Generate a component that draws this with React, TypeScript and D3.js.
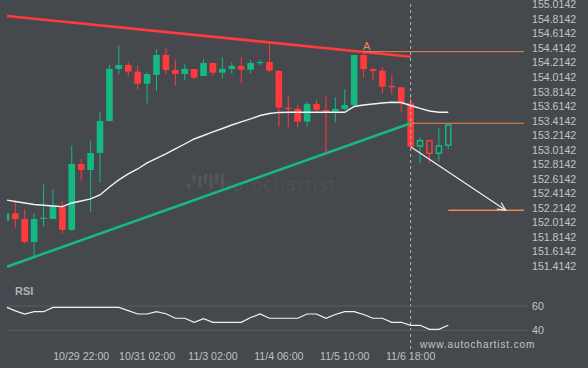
import React from "react";
import * as d3 from "d3";

// candle index -1 .. 46, ohlc
const opens = [152.039, 152.141, 152.062, 151.746, 152.072, 152.062, 152.232, 151.911, 152.82, 152.737, 152.972, 153.412, 154.129, 154.184, 154.092, 153.926, 154.046, 154.322, 154.115, 154.06, 154.129, 154.032, 154.211, 154.078, 154.129, 154.17, 154.119, 154.218, 154.225, 154.101, 153.596, 153.578, 153.403, 153.647, 153.564, 153.54, 153.578, 153.633, 154.322, 154.125, 154.105, 153.895, 153.876, 153.656, 153.068, 153.141, 152.967, 153.078];
const highs = [152.16, 152.301, 152.196, 152.141, 152.54, 152.472, 152.301, 153.068, 152.885, 153.141, 153.54, 154.184, 154.459, 154.235, 154.174, 154.083, 154.4, 154.422, 154.262, 154.193, 154.129, 154.262, 154.211, 154.29, 154.221, 154.298, 154.253, 154.262, 154.491, 154.115, 153.761, 153.629, 153.674, 153.702, 153.753, 153.739, 153.849, 154.322, 154.367, 154.152, 154.152, 154.046, 153.876, 153.757, 153.182, 153.141, 153.316, 153.357];
const lows = [152.02, 151.943, 151.728, 151.543, 151.957, 152.062, 151.866, 151.897, 152.59, 152.155, 152.563, 153.403, 154.056, 154.023, 153.849, 153.656, 153.83, 154.056, 153.899, 153.973, 153.991, 154.032, 154.036, 154.001, 154.056, 153.932, 154.069, 154.184, 154.078, 153.334, 153.32, 153.326, 153.334, 153.532, 152.976, 153.395, 153.564, 153.596, 154.014, 153.977, 153.794, 153.78, 153.527, 153.058, 152.83, 152.83, 152.857, 153.023];
const closes = [152.141, 152.062, 151.746, 152.062, 152.08, 152.246, 151.911, 152.82, 152.737, 152.972, 153.412, 154.129, 154.184, 154.092, 153.926, 154.06, 154.322, 154.115, 154.06, 154.129, 154.009, 154.211, 154.078, 154.129, 154.17, 154.119, 154.211, 154.225, 154.105, 153.596, 153.578, 153.403, 153.647, 153.564, 153.54, 153.578, 153.633, 154.322, 154.129, 154.101, 153.885, 153.876, 153.67, 153.058, 153.141, 152.967, 153.068, 153.357];
const movingAvg = [152.324, 152.303, 152.283, 152.262, 152.251, 152.241, 152.232, 152.283, 152.31, 152.338, 152.393, 152.503, 152.6, 152.682, 152.751, 152.834, 152.896, 152.958, 153.027, 153.095, 153.164, 153.212, 153.261, 153.309, 153.357, 153.399, 153.44, 153.488, 153.516, 153.53, 153.532, 153.532, 153.532, 153.532, 153.532, 153.532, 153.532, 153.612, 153.633, 153.647, 153.66, 153.67, 153.667, 153.626, 153.585, 153.55, 153.532, 153.532];
const rsi = [58.9, 56, 53.4, 55.3, 55.3, 58.9, 58.9, 58.9, 58.9, 58.9, 58.9, 58.9, 58.9, 56.2, 53.4, 53.4, 55.3, 53.6, 49.9, 49.9, 46.6, 49.5, 46.6, 46.6, 46.6, 46.6, 50.5, 53.4, 49.9, 49.9, 49.9, 49.9, 53.4, 53.4, 49.9, 53, 55.3, 55.3, 53, 49.9, 49.9, 46.6, 46.6, 44.1, 44.1, 40.8, 40.8, 44.1];

const firstIndex = -1;
const nowIndex = 42;
const timeLabels = ["10/29 22:00", "10/31 02:00", "11/3 02:00", "11/4 06:00", "11/5 10:00", "11/6 18:00"];
const timeLabelIndex = [7, 14, 21, 28, 35, 42];
const priceTicks = d3.range(0, 19).map(i => 155.0142 - i * 0.2);
const rsiTicks = [60, 40];

// pattern: [index, price] pairs
const resistance = [[-0.88, 154.859], [42, 154.298]];
const support = [[-0.88, 151.405], [42, 153.381]];
const levelA = { from: 37, price: 154.367 };
const levelBreak = { from: 42, price: 153.381 };
const target = { from: 46, price: 152.182 };
const forecast = [[42, 153.058], [52.1, 152.182]];

const bg = "#45484d";
const up = "#16b881";
const down = "#ff3b3b";
const orange = "#f0874f";
const font = "'Liberation Sans', Arial, sans-serif";

const App = () => {
  const width = 588, height = 368;
  const plotLeft = 7, plotRight = 528;

  const x = d3.scaleLinear().domain([0, 46]).range([15.3, 448.3]);
  const y = d3.scaleLinear().domain([155.0142, 151.4142]).range([4.7, 266]);
  const yr = d3.scaleLinear().domain([40, 60]).range([330.3, 306]);

  const candles = opens.map((o, i) => ({
    i: i + firstIndex, o, h: highs[i], l: lows[i], c: closes[i]
  }));

  const maLine = d3.line<number>().x((d, i) => x(i + firstIndex)).y(d => y(d));
  const rsiLine = d3.line<number>().x((d, i) => Math.max(plotLeft, x(i + firstIndex))).y(d => yr(d));
  const seg = d3.line<number[]>().x(d => x(d[0])).y(d => y(d[1]));

  const bw = 6.6;
  const arrowEnd = forecast[1];
  const ax = x(arrowEnd[0]), ay = y(arrowEnd[1]);
  const ang = Math.atan2(ay - y(forecast[0][1]), ax - x(forecast[0][0]));
  const head = (a: number) => `${ax - 9 * Math.cos(ang + a)},${ay - 9 * Math.sin(ang + a)}`;

  const logoBars = [[0, 4], [1, 8], [2, 12], [3, 9], [4, 13], [5, 10], [6, 14]];

  return (
    <svg width={width} height={height} style={{ position: "absolute", left: 0, top: 0, display: "block" }} fontFamily={font}>
      <defs>
        <clipPath id="plot">
          <rect x={plotLeft} y={0} width={plotRight - plotLeft} height={272} />
        </clipPath>
      </defs>
      <rect width={width} height={height} fill={bg} />

      {/* watermark */}
      <g fill="#53565b">
        {logoBars.map(([k, hgt]) => (
          <rect key={k} x={187 + k * 5.6} y={(k % 2 ? 183 : 188) - hgt} width={3.2} height={hgt} />
        ))}
        <text x={221} y={191} fontSize={17} letterSpacing={1} fontFamily="'DejaVu Sans', sans-serif" fontWeight={300}>autochartist</text>
      </g>

      <g clipPath="url(#plot)">
        {candles.map(d => {
          const hollow = d.i > nowIndex;
          const col = d.c >= d.o ? up : down;
          const top = y(Math.max(d.o, d.c)), bot = y(Math.min(d.o, d.c));
          const cx = x(d.i);
          return (
            <g key={d.i}>
              <line x1={cx} x2={cx} y1={y(d.h)} y2={hollow ? top : y(d.l)} stroke={col} strokeWidth={1} />
              {hollow && <line x1={cx} x2={cx} y1={bot} y2={y(d.l)} stroke={col} strokeWidth={1} />}
              <rect x={cx - bw / 2 + (hollow ? 0.75 : 0)} y={top} width={bw - (hollow ? 1.5 : 0)}
                height={Math.max(1.2, bot - top)} fill={hollow ? "none" : col} stroke={hollow ? col : "none"} strokeWidth={1.5} />
            </g>
          );
        })}
        <path d={maLine(movingAvg) || ""} fill="none" stroke="#f2f2f2" strokeWidth={1.4} />
        <path d={seg(resistance) || ""} stroke={down} strokeWidth={2.6} fill="none" />
        <path d={seg(support) || ""} stroke={up} strokeWidth={2.6} fill="none" />
      </g>

      {/* levels */}
      <line x1={x(levelA.from)} x2={plotRight - 4} y1={y(levelA.price)} y2={y(levelA.price)} stroke={orange} strokeWidth={1} />
      <line x1={x(levelBreak.from)} x2={plotRight - 4} y1={y(levelBreak.price)} y2={y(levelBreak.price)} stroke={orange} strokeWidth={1} />
      <line x1={x(target.from)} x2={plotRight - 4} y1={y(target.price)} y2={y(target.price)} stroke={orange} strokeWidth={1.5} />
      <text x={x(levelA.from) + 3} y={y(levelA.price) - 2} fontSize={11} fill={orange} textAnchor="middle">A</text>

      {/* forecast arrow */}
      <path d={seg(forecast) || ""} stroke="#f0f0f0" strokeWidth={1.2} fill="none" />
      <polyline points={`${head(0.45)} ${ax},${ay} ${head(-0.45)}`} stroke="#f0f0f0" strokeWidth={1.2} fill="none" />

      {/* now line */}
      <line x1={x(nowIndex)} x2={x(nowIndex)} y1={4} y2={350} stroke="#b8b8b8" strokeWidth={1} strokeDasharray="3,3" />

      {/* price axis */}
      <g fontSize={10.6} fill="#c4c4c4">
        {priceTicks.map(p => (
          <text key={p} x={532} y={y(p)} dy="0.35em">{p.toFixed(4)}</text>
        ))}
      </g>

      {/* RSI panel */}
      <text x={15} y={295} fontSize={11} fontWeight="bold" fill="#b3b3b3">RSI</text>
      {rsiTicks.map(t => (
        <g key={t}>
          <line x1={plotLeft} x2={plotRight} y1={yr(t)} y2={yr(t)} stroke="#5b5e62" strokeWidth={1} />
          <text x={532} y={yr(t)} dy="0.35em" fontSize={10.6} fill="#c4c4c4">{t}</text>
        </g>
      ))}
      <path d={rsiLine(rsi) || ""} fill="none" stroke="#f2f2f2" strokeWidth={1.2} />

      <text x={420} y={348} fontSize={10} letterSpacing={0.9} fill="#c4c4c4">www.autochartist.com</text>

      {/* time axis */}
      <g fontSize={10.6} fill="#c0c0c0" textAnchor="middle">
        {timeLabels.map((t, k) => (
          <text key={t} x={x(timeLabelIndex[k])} y={360}>{t}</text>
        ))}
      </g>
    </svg>
  );
};

export default App;
